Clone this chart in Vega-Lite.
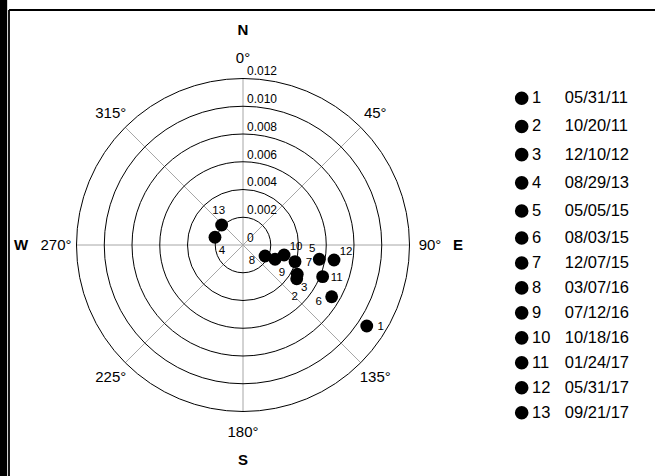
{
  "$schema": "https://vega.github.io/schema/vega-lite/v6.json",
  "width": 646,
  "height": 466,
  "autosize": "none",
  "padding": {"left": 9, "top": 10, "right": 0, "bottom": 0},
  "background": "white",
  "config": {"font": "Liberation Sans", "view": {"stroke": null}, "axis": {"disable": true}},
  "datasets": {
    "pts": [
      {"id": 1, "date": "05/31/11", "e": 0.00892, "n": -0.00584},
      {"id": 2, "date": "10/20/11", "e": 0.00387, "n": -0.00243},
      {"id": 3, "date": "12/10/12", "e": 0.00391, "n": -0.00211},
      {"id": 4, "date": "08/29/13", "e": -0.00202, "n": 0.00056},
      {"id": 5, "date": "05/05/15", "e": 0.0055, "n": -0.00103},
      {"id": 6, "date": "08/03/15", "e": 0.00639, "n": -0.00373},
      {"id": 7, "date": "12/07/15", "e": 0.00375, "n": -0.0012},
      {"id": 8, "date": "03/07/16", "e": 0.00159, "n": -0.00079},
      {"id": 9, "date": "07/12/16", "e": 0.00231, "n": -0.00103},
      {"id": 10, "date": "10/18/16", "e": 0.00296, "n": -0.00072},
      {"id": 11, "date": "01/24/17", "e": 0.00574, "n": -0.00228},
      {"id": 12, "date": "05/31/17", "e": 0.00656, "n": -0.00108},
      {"id": 13, "date": "09/21/17", "e": -0.00154, "n": 0.00144}
    ],
    "rings": [{"r": 0.002}, {"r": 0.004}, {"r": 0.006}, {"r": 0.008}, {"r": 0.01}, {"r": 0.012}],
    "ringlabels": [
      {"r": 0, "label": "0"},
      {"r": 0.002, "label": "0.002"},
      {"r": 0.004, "label": "0.004"},
      {"r": 0.006, "label": "0.006"},
      {"r": 0.008, "label": "0.008"},
      {"r": 0.01, "label": "0.010"},
      {"r": 0.012, "label": "0.012"}
    ],
    "spokes": [
      {"x": 0, "y": 0.012, "x2": 0, "y2": -0.012},
      {"x": -0.012, "y": 0, "x2": 0.012, "y2": 0},
      {"x": 0.0084853, "y": 0.0084853, "x2": -0.0084853, "y2": -0.0084853},
      {"x": 0.0084853, "y": -0.0084853, "x2": -0.0084853, "y2": 0.0084853}
    ],
    "angles": [
      {"deg": 0, "label": "0°"},
      {"deg": 45, "label": "45°"},
      {"deg": 90, "label": "90°"},
      {"deg": 135, "label": "135°"},
      {"deg": 180, "label": "180°"},
      {"deg": 225, "label": "225°"},
      {"deg": 270, "label": "270°"},
      {"deg": 315, "label": "315°"}
    ],
    "compass": [
      {"deg": 0, "label": "N"},
      {"deg": 90, "label": "E"},
      {"deg": 180, "label": "S"},
      {"deg": 270, "label": "W"}
    ]
  },
  "layer": [
    {
      "layer": [
        {
          "data": {"name": "spokes"},
          "mark": {"type": "rule", "color": "#a6a6a6", "strokeWidth": 1},
          "encoding": {
            "x": {"field": "x", "type": "quantitative", "scale": {"domain": [-0.0168649, 0.0296937], "nice": false, "zero": false}},
            "y": {"field": "y", "type": "quantitative", "scale": {"domain": [-0.0166486, 0.0169369], "nice": false, "zero": false}},
            "x2": {"field": "x2"},
            "y2": {"field": "y2"}
          }
        },
        {
          "data": {"name": "rings"},
          "mark": {"type": "arc", "theta": 0, "theta2": 6.2832, "filled": false, "stroke": "black", "strokeWidth": 1},
          "encoding": {
            "x": {"datum": 0, "type": "quantitative", "scale": {"domain": [-0.0168649, 0.0296937], "nice": false, "zero": false}},
            "y": {"datum": 0, "type": "quantitative", "scale": {"domain": [-0.0166486, 0.0169369], "nice": false, "zero": false}},
            "radius": {"field": "r", "type": "quantitative", "stack": null, "scale": {"type": "linear", "domain": [0, 0.012], "range": [0, 166.5], "nice": false, "zero": true}}
          }
        },
        {
          "data": {"name": "ringlabels"},
          "mark": {"type": "text", "align": "left", "baseline": "alphabetic", "dx": 4, "dy": -3, "fontSize": 12, "color": "black"},
          "encoding": {
            "x": {"datum": 0, "type": "quantitative", "scale": {"domain": [-0.0168649, 0.0296937], "nice": false, "zero": false}},
            "y": {"field": "r", "type": "quantitative", "scale": {"domain": [-0.0166486, 0.0169369], "nice": false, "zero": false}},
            "text": {"field": "label", "type": "nominal"}
          }
        },
        {
          "data": {"name": "angles"},
          "mark": {"type": "text", "align": "center", "baseline": "middle", "fontSize": 15, "color": "black"},
          "encoding": {
            "x": {"datum": 0, "type": "quantitative", "scale": {"domain": [-0.0168649, 0.0296937], "nice": false, "zero": false}},
            "y": {"datum": 0, "type": "quantitative", "scale": {"domain": [-0.0166486, 0.0169369], "nice": false, "zero": false}},
            "theta": {"field": "deg", "type": "quantitative", "scale": {"type": "linear", "domain": [0, 360], "range": [0, 6.283185], "nice": false, "zero": true}},
            "radius": {"value": 187},
            "text": {"field": "label", "type": "nominal"}
          }
        },
        {
          "data": {"name": "compass"},
          "transform": [{"filter": "datum.label !== 'W'"}],
          "mark": {"type": "text", "align": "center", "baseline": "middle", "fontSize": 15, "fontWeight": "bold", "color": "black"},
          "encoding": {
            "x": {"datum": 0, "type": "quantitative", "scale": {"domain": [-0.0168649, 0.0296937], "nice": false, "zero": false}},
            "y": {"datum": 0, "type": "quantitative", "scale": {"domain": [-0.0166486, 0.0169369], "nice": false, "zero": false}},
            "theta": {"field": "deg", "type": "quantitative", "scale": {"type": "linear", "domain": [0, 360], "range": [0, 6.283185], "nice": false, "zero": true}},
            "radius": {"value": 215},
            "text": {"field": "label", "type": "nominal"}
          }
        },
        {
          "data": {"name": "compass"},
          "transform": [{"filter": "datum.label === 'W'"}],
          "mark": {"type": "text", "align": "center", "baseline": "middle", "fontSize": 15, "fontWeight": "bold", "color": "black"},
          "encoding": {
            "x": {"datum": 0, "type": "quantitative", "scale": {"domain": [-0.0168649, 0.0296937], "nice": false, "zero": false}},
            "y": {"datum": 0, "type": "quantitative", "scale": {"domain": [-0.0166486, 0.0169369], "nice": false, "zero": false}},
            "theta": {"field": "deg", "type": "quantitative", "scale": {"type": "linear", "domain": [0, 360], "range": [0, 6.283185], "nice": false, "zero": true}},
            "radius": {"value": 222},
            "text": {"field": "label", "type": "nominal"}
          }
        },
        {
          "data": {"name": "pts"},
          "mark": {"type": "point", "filled": true, "color": "black", "opacity": 1, "size": 165},
          "encoding": {
            "x": {"field": "e", "type": "quantitative", "scale": {"domain": [-0.0168649, 0.0296937], "nice": false, "zero": false}},
            "y": {"field": "n", "type": "quantitative", "scale": {"domain": [-0.0166486, 0.0169369], "nice": false, "zero": false}}
          }
        },
        {
          "data": {"name": "pts"},
          "transform": [{"filter": "indexof([1, 11, 7], datum.id) >= 0"}],
          "mark": {"type": "text", "align": "center", "baseline": "middle", "fontSize": 11.5, "color": "black", "dx": 14, "dy": 1},
          "encoding": {
            "x": {"field": "e", "type": "quantitative"},
            "y": {"field": "n", "type": "quantitative"},
            "text": {"field": "id", "type": "nominal"}
          }
        },
        {
          "data": {"name": "pts"},
          "transform": [{"filter": "indexof([10, 12], datum.id) >= 0"}],
          "mark": {"type": "text", "align": "center", "baseline": "middle", "fontSize": 11.5, "color": "black", "dx": 12, "dy": -8},
          "encoding": {
            "x": {"field": "e", "type": "quantitative"},
            "y": {"field": "n", "type": "quantitative"},
            "text": {"field": "id", "type": "nominal"}
          }
        },
        {
          "data": {"name": "pts"},
          "transform": [{"filter": "indexof([4, 9, 3], datum.id) >= 0"}],
          "mark": {"type": "text", "align": "center", "baseline": "middle", "fontSize": 11.5, "color": "black", "dx": 7, "dy": 14},
          "encoding": {
            "x": {"field": "e", "type": "quantitative"},
            "y": {"field": "n", "type": "quantitative"},
            "text": {"field": "id", "type": "nominal"}
          }
        },
        {
          "data": {"name": "pts"},
          "transform": [{"filter": "datum.id === 2"}],
          "mark": {"type": "text", "align": "center", "baseline": "middle", "fontSize": 11.5, "color": "black", "dx": -2, "dy": 18},
          "encoding": {
            "x": {"field": "e", "type": "quantitative"},
            "y": {"field": "n", "type": "quantitative"},
            "text": {"field": "id", "type": "nominal"}
          }
        },
        {
          "data": {"name": "pts"},
          "transform": [{"filter": "datum.id === 13"}],
          "mark": {"type": "text", "align": "center", "baseline": "middle", "fontSize": 11.5, "color": "black", "dx": -3, "dy": -14},
          "encoding": {
            "x": {"field": "e", "type": "quantitative"},
            "y": {"field": "n", "type": "quantitative"},
            "text": {"field": "id", "type": "nominal"}
          }
        },
        {
          "data": {"name": "pts"},
          "transform": [{"filter": "datum.id === 5"}],
          "mark": {"type": "text", "align": "center", "baseline": "middle", "fontSize": 11.5, "color": "black", "dx": -7, "dy": -10},
          "encoding": {
            "x": {"field": "e", "type": "quantitative"},
            "y": {"field": "n", "type": "quantitative"},
            "text": {"field": "id", "type": "nominal"}
          }
        },
        {
          "data": {"name": "pts"},
          "transform": [{"filter": "indexof([8, 6], datum.id) >= 0"}],
          "mark": {"type": "text", "align": "center", "baseline": "middle", "fontSize": 11.5, "color": "black", "dx": -13, "dy": 5},
          "encoding": {
            "x": {"field": "e", "type": "quantitative"},
            "y": {"field": "n", "type": "quantitative"},
            "text": {"field": "id", "type": "nominal"}
          }
        },
        {
          "data": {"values": [{}]},
          "mark": {"type": "rule", "color": "black", "strokeWidth": 1.8},
          "encoding": {
            "y": {"datum": 0.0169369, "type": "quantitative"}
          }
        },
        {
          "data": {"values": [{}]},
          "mark": {"type": "rule", "color": "black", "strokeWidth": 1.8},
          "encoding": {
            "x": {"datum": -0.0168649, "type": "quantitative"}
          }
        },
        {
          "data": {"values": [{}]},
          "mark": {"type": "rule", "color": "black", "strokeWidth": 7.3},
          "encoding": {
            "x": {"datum": -0.01726, "type": "quantitative"},
            "y": {"datum": 0.0178, "type": "quantitative"},
            "y2": {"datum": -0.0167}
          }
        }
      ]
    },
    {
      "data": {"name": "pts"},
      "transform": [{"filter": "datum.id <= 5"}],
      "encoding": {
        "y": {"field": "id", "type": "ordinal", "scale": {"type": "point", "domain": [1, 2, 3, 4, 5], "range": [88.3, 201], "padding": 0}}
      },
      "layer": [
        {
          "mark": {"type": "point", "filled": true, "color": "black", "opacity": 1, "size": 185},
          "encoding": {"x": {"datum": 0.020086, "type": "quantitative"}}
        },
        {
          "mark": {"type": "text", "align": "left", "baseline": "middle", "fontSize": 16.5, "color": "black"},
          "encoding": {"x": {"datum": 0.020829, "type": "quantitative"}, "text": {"field": "id", "type": "nominal"}}
        },
        {
          "mark": {"type": "text", "align": "left", "baseline": "middle", "fontSize": 16.5, "color": "black"},
          "encoding": {"x": {"datum": 0.023193, "type": "quantitative"}, "text": {"field": "date", "type": "nominal"}}
        }
      ]
    },
    {
      "data": {"name": "pts"},
      "transform": [{"filter": "datum.id >= 6"}],
      "encoding": {
        "y": {"field": "id", "type": "ordinal", "scale": {"type": "point", "domain": [6, 7, 8, 9, 10, 11, 12, 13], "range": [228, 402.7], "padding": 0}}
      },
      "layer": [
        {
          "mark": {"type": "point", "filled": true, "color": "black", "opacity": 1, "size": 185},
          "encoding": {"x": {"datum": 0.020086, "type": "quantitative"}}
        },
        {
          "mark": {"type": "text", "align": "left", "baseline": "middle", "fontSize": 16.5, "color": "black"},
          "encoding": {"x": {"datum": 0.020829, "type": "quantitative"}, "text": {"field": "id", "type": "nominal"}}
        },
        {
          "mark": {"type": "text", "align": "left", "baseline": "middle", "fontSize": 16.5, "color": "black"},
          "encoding": {"x": {"datum": 0.023193, "type": "quantitative"}, "text": {"field": "date", "type": "nominal"}}
        }
      ]
    }
  ],
  "resolve": {"scale": {"y": "independent"}}
}
